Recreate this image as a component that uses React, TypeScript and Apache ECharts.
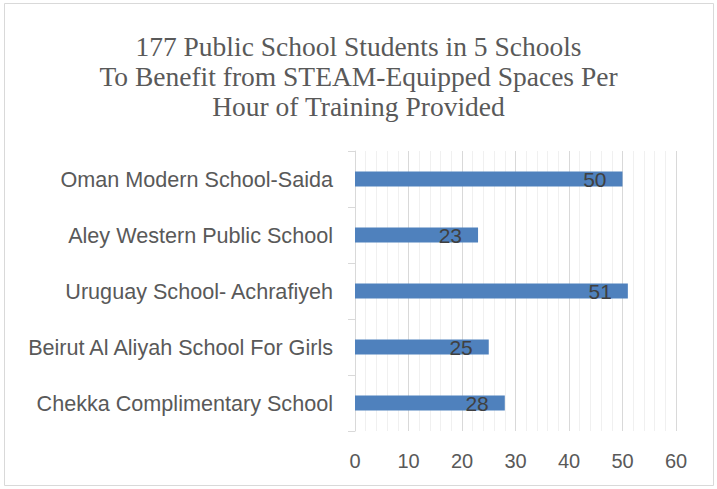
import React, { useEffect, useRef } from "react";
import * as echarts from "echarts";

const titleLines = [
  "177 Public School Students in 5 Schools",
  "To Benefit from STEAM-Equipped Spaces Per",
  "Hour of Training Provided",
];
const schools = [
  "Chekka Complimentary School",
  "Beirut Al Aliyah School For Girls",
  "Uruguay School- Achrafiyeh",
  "Aley Western Public School",
  "Oman Modern School-Saida",
];
const values = [28, 25, 51, 23, 50];
const axisMin = 0;
const axisMax = 60;
const axisStep = 10;

export default function App() {
  const ref = useRef<HTMLDivElement>(null);
  useEffect(() => {
    if (!ref.current) return;
    const chart = echarts.init(ref.current, null, { renderer: "svg" });
    chart.setOption({
      animation: false,
      backgroundColor: "#ffffff",
      title: {
        text: titleLines.join("\n"),
        left: "center",
        top: 26,
        textStyle: {
          fontFamily: "Liberation Serif",
          fontWeight: "normal",
          fontSize: 27.5,
          lineHeight: 30,
          color: "#595959",
        },
      },
      graphic: [
        {
          type: "rect",
          shape: { x: 4.5, y: 3.5, width: 709, height: 482 },
          style: { fill: "none", stroke: "#d9d9d9", lineWidth: 1 },
          silent: true,
        },
      ],
      grid: { left: 355, right: 41, top: 151, bottom: 58, containLabel: false },
      xAxis: {
        type: "value",
        min: axisMin,
        max: axisMax,
        interval: axisStep,
        axisLine: { show: false },
        axisTick: { show: false },
        axisLabel: {
          color: "#595959",
          fontFamily: "Liberation Sans",
          fontSize: 20,
          margin: 20,
        },
        splitLine: { show: true, lineStyle: { color: "#d9d9d9", width: 1 } },
        minorTick: { show: false, splitNumber: 5 },
        minorSplitLine: { show: true, lineStyle: { color: "#f0f0f0", width: 1 } },
      },
      yAxis: {
        type: "category",
        data: schools,
        axisLine: { show: true, lineStyle: { color: "#d9d9d9", width: 1 } },
        axisTick: { show: true, length: 7, lineStyle: { color: "#d9d9d9" } },
        axisLabel: {
          color: "#595959",
          fontFamily: "Liberation Sans",
          fontSize: 21.6,
          margin: 22,
        },
      },
      series: [
        {
          type: "bar",
          data: values,
          barWidth: 15,
          itemStyle: { color: "#4f81bd" },
          label: {
            show: true,
            position: "insideRight",
            distance: 16,
            color: "#404040",
            fontFamily: "Liberation Sans",
            fontSize: 21,
          },
        },
      ],
    });
    return () => chart.dispose();
  }, []);
  return (
    <div
      ref={ref}
      style={{ position: "fixed", left: 0, top: 0, width: 717, height: 489 }}
    />
  );
}
